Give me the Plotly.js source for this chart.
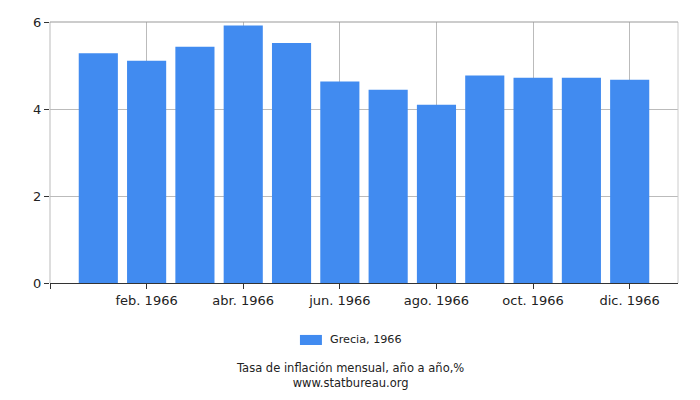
<!DOCTYPE html>
<html><head><meta charset="utf-8">
<script src="https://cdn.plot.ly/plotly-3.0.1.min.js"></script>
<style>html,body{margin:0;padding:0;background:#fff}</style>
</head><body>
<div id="chart" style="width:700px;height:400px"></div>
<script>
const months = ['ene. 1966','feb. 1966','mar. 1966','abr. 1966','may. 1966','jun. 1966','jul. 1966','ago. 1966','sep. 1966','oct. 1966','nov. 1966','dic. 1966'];
const values = [5.28, 5.11, 5.43, 5.92, 5.52, 4.63, 4.44, 4.10, 4.77, 4.72, 4.72, 4.67];
const tickLabels = ['', 'feb. 1966', 'abr. 1966', 'jun. 1966', 'ago. 1966', 'oct. 1966', 'dic. 1966'];
const tickPositions = [-1, 1, 3, 5, 7, 9, 11];
const seriesName = 'Grecia, 1966';
const barColor = '#418bf0';

const xs = months.map((m, i) => i);
const font = {family: 'DejaVu Sans, sans-serif', size: 13, color: '#222'};
const small = {family: 'DejaVu Sans, sans-serif', size: 11.2, color: '#222'};

Plotly.newPlot('chart', [{
  type: 'bar', x: xs, y: values, name: seriesName, width: 0.81,
  marker: {color: barColor}, text: months, hoverinfo: 'text+y', textposition: 'none',
  showlegend: false
}], {
  width: 700, height: 400,
  margin: {l: 50, r: 22, t: 22, b: 117},
  paper_bgcolor: '#fff', plot_bgcolor: '#fff',
  font: font,
  showlegend: false,
  xaxis: {range: [-1, 12], tickvals: tickPositions, ticktext: tickLabels,
    showgrid: true, gridcolor: '#bbb', gridwidth: 1,
    ticks: 'outside', ticklen: 5, tickcolor: '#333',
    showline: true, linecolor: '#333', linewidth: 1, mirror: false,
    zeroline: false, fixedrange: true, tickfont: font},
  yaxis: {range: [0, 6], tickvals: [0, 2, 4, 6], ticks: 'outside', ticklen: 5, tickcolor: '#333',
    showgrid: true, gridcolor: '#bbb', zeroline: false, showline: false,
    tickfont: font, fixedrange: true},
  shapes: [
    {type: 'line', xref: 'paper', yref: 'paper', x0: 0, x1: 0, y0: 0, y1: 1, line: {color: '#bbb', width: 1}},
    {type: 'line', xref: 'paper', yref: 'paper', x0: 1, x1: 1, y0: 0, y1: 1, line: {color: '#ccc', width: 1}},
    {type: 'line', xref: 'paper', yref: 'paper', x0: 0, x1: 1, y0: 1, y1: 1, line: {color: '#999', width: 1}},
    {type: 'rect', xref: 'paper', yref: 'paper', x0: 0.398, x1: 0.433, y0: -0.199, y1: -0.2375,
     fillcolor: barColor, line: {width: 0}}
  ],
  annotations: [
    {xref: 'paper', yref: 'paper', x: 0.442, y: -0.218, xanchor: 'left', yanchor: 'middle', showarrow: false,
     text: seriesName, font: small},
    {xref: 'paper', yref: 'paper', x: 0.478, y: -0.356, yanchor: 'middle', showarrow: false,
     text: 'Tasa de inflación mensual, año a año,%<br>www.statbureau.org', font: {family: 'DejaVu Sans, sans-serif', size: 11.5, color: '#222'}}
  ]
}, {displayModeBar: false, staticPlot: true});
</script>
</body></html>
